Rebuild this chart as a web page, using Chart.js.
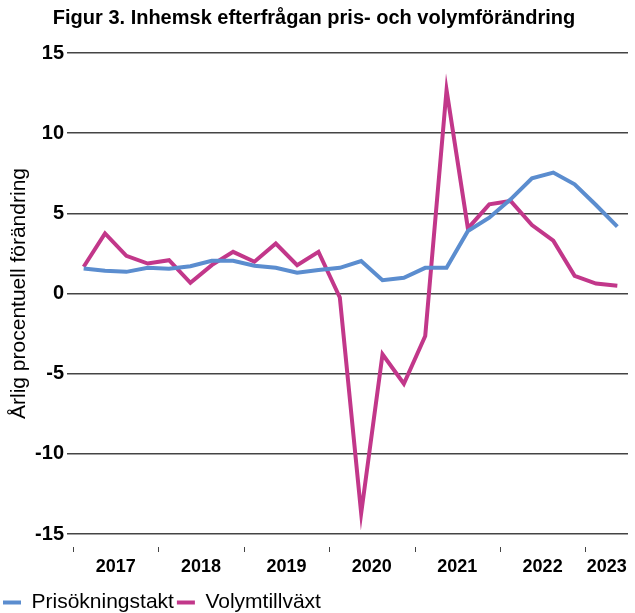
<!DOCTYPE html>
<html>
<head>
<meta charset="utf-8">
<script src="https://cdn.jsdelivr.net/npm/chart.js@4"></script>
<style>
  html, body { margin: 0; padding: 0; background: #fff; }
  #wrap { width: 635px; height: 613px; }
</style>
</head>
<body>
<div id="wrap"><canvas id="chart" width="635" height="613"></canvas></div>
<script>
// Quarters 2017K1 .. 2023K2
const quarters = [
	"2017K1", "2017K2", "2017K3", "2017K4",
	"2018K1", "2018K2", "2018K3", "2018K4",
	"2019K1", "2019K2", "2019K3", "2019K4",
	"2020K1", "2020K2", "2020K3", "2020K4",
	"2021K1", "2021K2", "2021K3", "2021K4",
	"2022K1", "2022K2", "2022K3", "2022K4",
	"2023K1", "2023K2"
];
const years = ["2017", "2018", "2019", "2020", "2021", "2022", "2023"];

const prisokningstakt = [
	1.56, 1.42, 1.35, 1.6, 1.54, 1.7, 2.04, 2.04,
	1.73, 1.6, 1.29, 1.46, 1.6, 2.02, 0.83, 0.98,
	1.6, 1.6, 3.9, 4.73, 5.87, 7.19, 7.54, 6.81,
	5.52, 4.17
];
const volymtillvaxt = [
	1.67, 3.75, 2.35, 1.87, 2.08, 0.67, 1.77, 2.6,
	1.98, 3.12, 1.77, 2.6, -0.25, -13.7, -3.79, -5.63,
	-2.65, 12.7, 4.06, 5.56, 5.77, 4.27, 3.29, 1.1,
	0.62, 0.48
];

const yTicks = [-15, -10, -5, 0, 5, 10, 15];

const FONT = "'Liberation Sans', Arial, sans-serif";

// year labels and year tick marks below the plot
const yearAxis = {
	id: "yearAxis",
	afterDraw(chart) {
		const x = chart.scales.x;
		const area = chart.chartArea;
		const ctx = chart.ctx;
		const step = x.getPixelForValue(1) - x.getPixelForValue(0);
		ctx.save();
		ctx.strokeStyle = "#444";
		ctx.lineWidth = 1;
		ctx.fillStyle = "#000";
		ctx.font = "bold 18px " + FONT;
		ctx.textAlign = "center";
		ctx.textBaseline = "middle";
		years.forEach(y => {
			const idx = quarters.map((q, i) => q.startsWith(y) ? i : -1).filter(i => i >= 0);
			const first = x.getPixelForValue(idx[0]);
			const last = x.getPixelForValue(idx[idx.length - 1]);
			const tx = Math.round(first - step / 2) + 0.5;
			ctx.beginPath();
			ctx.moveTo(tx, area.bottom + 13);
			ctx.lineTo(tx, area.bottom + 18);
			ctx.stroke();
			ctx.fillText(y, (first + last) / 2, area.bottom + 33);
		});
		ctx.restore();
	}
};

const ctx = document.getElementById("chart").getContext("2d");
new Chart(ctx, {
	type: "line",
	data: {
		labels: quarters,
		datasets: [
			{ label: "Prisökningstakt", data: prisokningstakt, borderColor: "#5B8DCF", backgroundColor: "#5B8DCF", borderWidth: 4, pointRadius: 0, tension: 0, fill: false },
			{ label: "Volymtillväxt", data: volymtillvaxt, borderColor: "#C2378A", backgroundColor: "#C2378A", borderWidth: 4, pointRadius: 0, tension: 0, fill: false }
		]
	},
	options: {
		responsive: false,
		animation: false,
		layout: { padding: { left: 0, right: 7, top: 0, bottom: 0 } },
		plugins: {
			title: {
				display: true,
				text: "Figur 3. Inhemsk efterfrågan pris- och volymförändring",
				color: "#000",
				font: { family: FONT, size: 20, weight: "bold" },
				padding: { top: 6, bottom: 23 }
			},
			legend: {
				display: true,
				position: "bottom",
				align: "start",
				maxHeight: 24,
				labels: {
					color: "#000",
					font: { family: FONT, size: 21 },
					boxWidth: 18,
					boxHeight: 4,
					padding: 3,
					generateLabels(chart) {
						return Chart.defaults.plugins.legend.labels.generateLabels(chart).map(l => {
							l.lineWidth = 0;
							l.fillStyle = chart.data.datasets[l.datasetIndex].borderColor;
							return l;
						});
					}
				}
			},
			tooltip: { enabled: false }
		},
		scales: {
			x: {
				offset: true,
				grid: { display: false },
				border: { display: false },
				ticks: { display: false },
				afterFit(scale) { scale.height = 55; }
			},
			y: {
				min: -15,
				max: 15,
				afterBuildTicks(scale) { scale.ticks = yTicks.map(v => ({ value: v })); },
				afterFit(scale) { scale.width = 73; },
				border: { display: false },
				grid: { color: "#444", lineWidth: 1.5, tickLength: 6, tickColor: "#444" },
				ticks: {
					color: "#000",
					padding: 3,
					font: { family: FONT, size: 20, weight: "bold" }
				},
				title: {
					display: true,
					text: "Årlig procentuell förändring",
					color: "#000",
					font: { family: FONT, size: 21 },
					padding: { top: 7, bottom: 0 }
				}
			}
		}
	},
	plugins: [yearAxis]
});
</script>
</body>
</html>
